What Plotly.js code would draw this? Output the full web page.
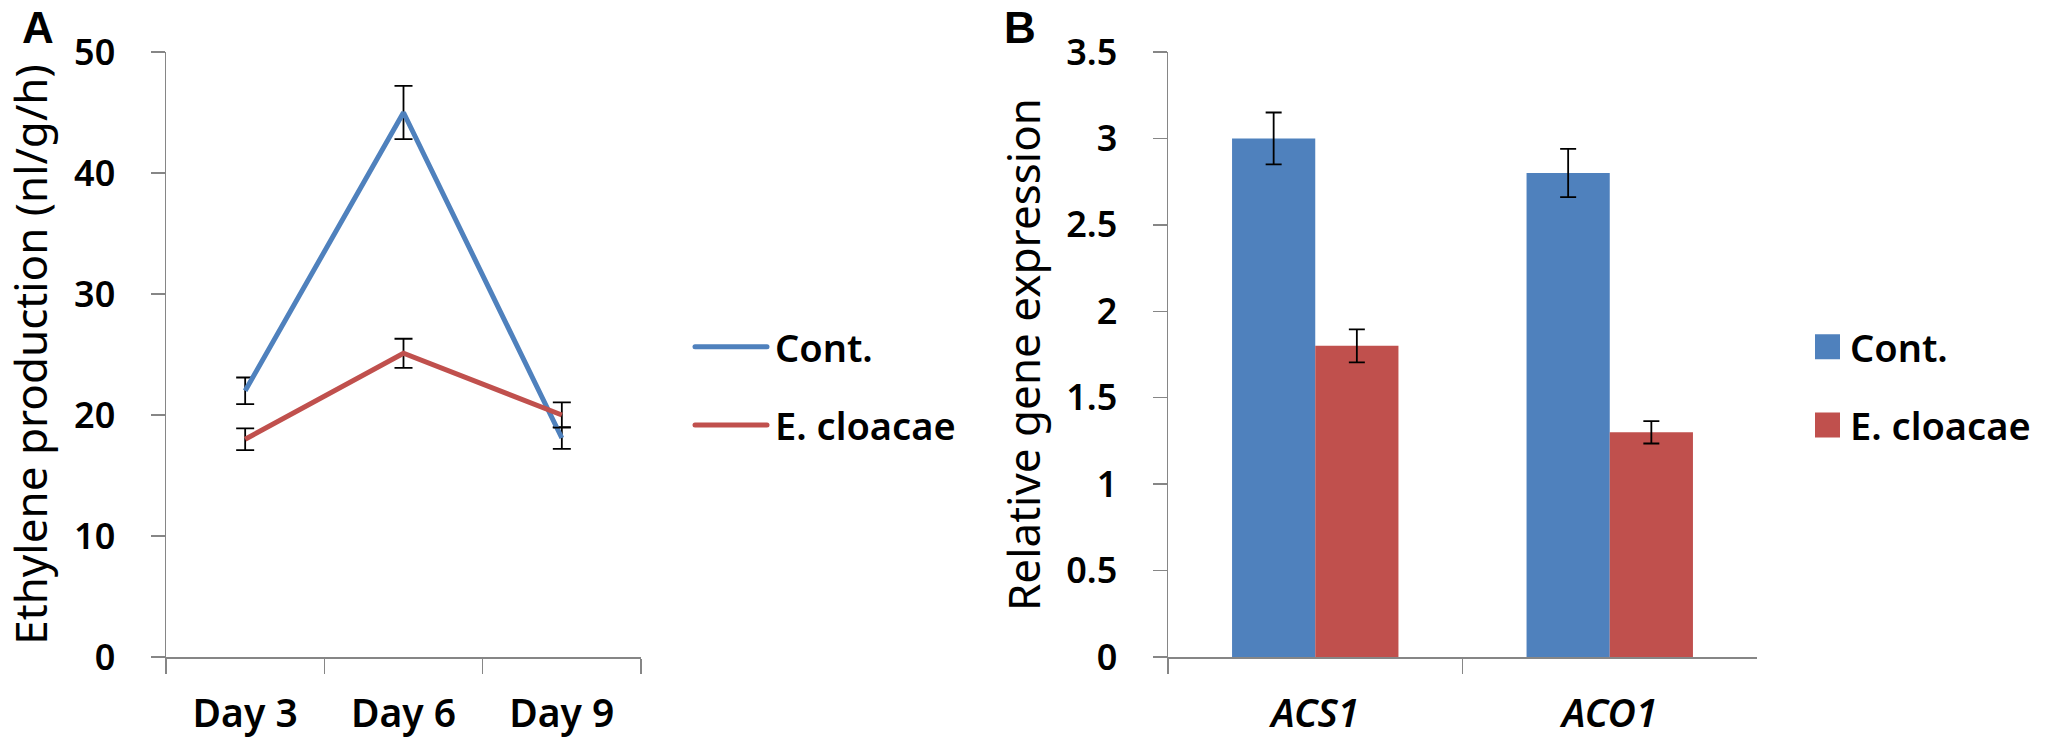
<!DOCTYPE html>
<html>
<head>
<meta charset="utf-8">
<script src="https://cdn.plot.ly/plotly-3.0.1.min.js"></script>
<style>
  html, body { margin: 0; padding: 0; background: #fff; }
  #chart { width: 2060px; height: 744px; }
</style>
</head>
<body>
<div id="chart"></div>
<script>
// Panel A: ethylene production
const days = ["Day 3", "Day 6", "Day 9"];
const contEthylene = [22, 45, 18.1];
const contEthyleneErr = [1.1, 2.2, 0.9];
const cloacaeEthylene = [18, 25.1, 20];
const cloacaeEthyleneErr = [0.9, 1.2, 1.05];

// Panel B: relative gene expression
const genes = ["ACS1", "ACO1"];
const contExpr = [3.0, 2.8];
const contExprErr = [0.15, 0.14];
const cloacaeExpr = [1.8, 1.3];
const cloacaeExprErr = [0.095, 0.065];

const seriesNames = ["Cont.", "E. cloacae"];

const BLUE = "#4F81BD";
const RED = "#C0504D";
const AXIS = "#868686";
const FONT = "Noto Sans, Open Sans, sans-serif";

const W = 2060, H = 744;
const px = v => v / W;
const py = v => 1 - v / H;

function errBar(arr, width) {
    return { type: "data", array: arr, visible: true, color: "#000", thickness: 1.8, width: width };
}

const traces = [
    {
        type: "scatter", mode: "lines", name: seriesNames[0],
        x: days, y: contEthylene, xaxis: "x", yaxis: "y",
        line: { color: BLUE, width: 5 },
        error_y: errBar(contEthyleneErr, 9),
        legend: "legend", legendgroup: "a1"
    },
    {
        type: "scatter", mode: "lines", name: seriesNames[1],
        x: days, y: cloacaeEthylene, xaxis: "x", yaxis: "y",
        line: { color: RED, width: 5 },
        error_y: errBar(cloacaeEthyleneErr, 9),
        legend: "legend", legendgroup: "a2"
    },
    {
        type: "bar", name: seriesNames[0],
        x: genes, y: contExpr, xaxis: "x2", yaxis: "y2",
        marker: { color: BLUE },
        error_y: errBar(contExprErr, 8),
        legend: "legend2", legendgroup: "b1"
    },
    {
        type: "bar", name: seriesNames[1],
        x: genes, y: cloacaeExpr, xaxis: "x2", yaxis: "y2",
        marker: { color: RED },
        error_y: errBar(cloacaeExprErr, 8),
        legend: "legend2", legendgroup: "b2"
    }
];

const xTickFont = { family: FONT, size: 39, color: "#000", weight: 600 };
const yTickFont = { family: FONT, size: 36, color: "#000", weight: 600 };
const titleFont = { family: FONT, size: 44, color: "#000" };

const yDomain = [py(657), py(52)];

function catAxis(domain, range, anchor, extraFont) {
    return {
        domain: domain, anchor: anchor, type: "category", range: range,
        tickson: "boundaries", ticks: "outside", ticklen: 15, tickwidth: 1.5, tickcolor: AXIS,
        showline: true, linecolor: AXIS, linewidth: 1.5,
        showgrid: false, zeroline: false,
        tickfont: Object.assign({}, xTickFont, extraFont || {}),
        ticklabelstandoff: 22, fixedrange: true
    };
}

function valAxis(range, dtick, anchor, title, standoff) {
    return {
        domain: yDomain, anchor: anchor, range: range, dtick: dtick, tick0: 0,
        ticks: "outside", ticklen: 14, tickwidth: 1.5, tickcolor: AXIS,
        showline: true, linecolor: AXIS, linewidth: 1.5,
        showgrid: false, zeroline: false,
        tickfont: yTickFont, ticklabelstandoff: 28,
        title: { text: title, font: titleFont, standoff: standoff },
        fixedrange: true
    };
}

const legendFont = { family: FONT, size: 38, color: "#000", weight: 600 };

const layout = {
    width: W, height: H,
    margin: { l: 0, r: 0, t: 0, b: 0 },
    paper_bgcolor: "#fff", plot_bgcolor: "#fff",
    showlegend: true,
    barmode: "group", bargap: 0.435, bargroupgap: 0,
    xaxis: catAxis([px(166), px(641)], [-0.5, 2.5], "y"),
    yaxis: valAxis([0, 50], 10, "x", "Ethylene production (nl/g/h)", 12),
    xaxis2: catAxis([px(1168), px(1757)], [-0.5, 1.5], "y2", { style: "italic" }),
    yaxis2: valAxis([0, 3.5], 0.5, "x2", "Relative gene expression", 12),
    legend: {
        x: px(690), xanchor: "left", y: py(386), yanchor: "middle",
        font: legendFont, bgcolor: "rgba(0,0,0,0)", borderwidth: 0,
        traceorder: "grouped", tracegroupgap: 26, itemwidth: 75
    },
    legend2: {
        x: px(1805), xanchor: "left", y: py(386), yanchor: "middle",
        font: legendFont, bgcolor: "rgba(0,0,0,0)", borderwidth: 0,
        traceorder: "grouped", tracegroupgap: 26, itemwidth: 35
    },
    annotations: [
        { text: "A", xref: "paper", yref: "paper", x: px(38), y: py(28), xanchor: "center", yanchor: "middle",
          showarrow: false, font: { family: "Liberation Sans, Arial, sans-serif", size: 44, weight: "bold", color: "#000" } },
        { text: "B", xref: "paper", yref: "paper", x: px(1020), y: py(28), xanchor: "center", yanchor: "middle",
          showarrow: false, font: { family: "Liberation Sans, Arial, sans-serif", size: 44, weight: "bold", color: "#000" } }
    ]
};

Plotly.newPlot("chart", traces, layout, { displayModeBar: false, staticPlot: true }).then(gd => {
    // Excel-style legend keys: long line swatches and larger squares
    gd.querySelectorAll("g.legend .legendlines path").forEach(p => {
        p.setAttribute("d", "M5,0h72");
        p.style.strokeLinecap = "round";
    });
    gd.querySelectorAll("g.legend2 .legendpoints path").forEach(p => {
        p.setAttribute("d", "M12.5,12.5H-12.5V-12.5H12.5Z");
    });
});
</script>
</body>
</html>
